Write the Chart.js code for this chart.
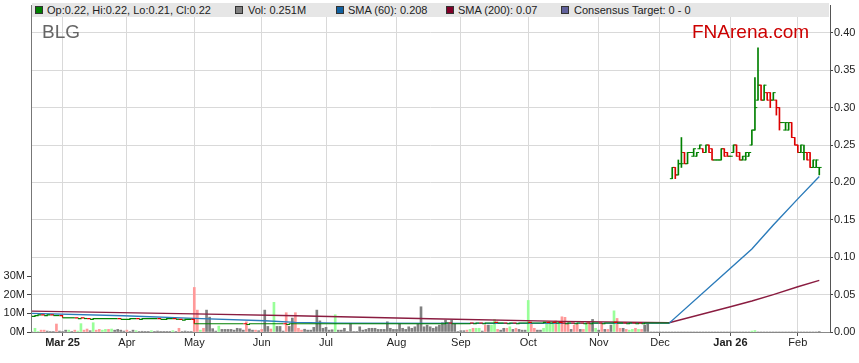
<!DOCTYPE html>
<html>
<head>
<meta charset="utf-8">
<title>BLG</title>
<script src="https://cdn.jsdelivr.net/npm/chart.js"></script>
<style>
  body { margin: 0; background: #fff; font-family: "Liberation Sans", Arial, sans-serif; }
  #wrap { position: relative; width: 859px; height: 363px; }
  #bar { position: absolute; left: 32px; top: 3px; width: 797px; height: 14px; background: #e6e6e6; }
  .sw { position: absolute; top: 3px; width: 8px; height: 8px; box-sizing: border-box; border: 1px solid #333; }
  .tx { position: absolute; top: 0; font-size: 11px; line-height: 14px; color: #222; white-space: nowrap; }
  #code { position: absolute; left: 42px; top: 22px; font-size: 19px; line-height: 19px; color: #666; }
  #brand { position: absolute; left: 692px; top: 22px; font-size: 19px; line-height: 19px; color: #c00; }
</style>
</head>
<body>
<div id="wrap">
  <canvas id="chart" width="859" height="363"></canvas>
  <div id="bar">
    <span class="sw" style="left:3px;background:#008000"></span><span class="tx" style="left:15px">Op:0.22, Hi:0.22, Lo:0.21, Cl:0.22</span>
    <span class="sw" style="left:203px;background:#808080"></span><span class="tx" style="left:216px">Vol: 0.251M</span>
    <span class="sw" style="left:304px;background:#1060a0"></span><span class="tx" style="left:316px">SMA (60): 0.208</span>
    <span class="sw" style="left:414px;background:#800028"></span><span class="tx" style="left:426px">SMA (200): 0.07</span>
    <span class="sw" style="left:529px;background:#60609a"></span><span class="tx" style="left:542px">Consensus Target: 0 - 0</span>
  </div>
  <div id="code">BLG</div>
  <div id="brand">FNArena.com</div>
</div>
<script>
// x axis = weekday index, 0 = Mon 17 Feb 2025
const monthIdx = [10, 31, 53, 75, 96, 119, 140, 162, 185, 205, 228, 250];
const monthLabels = ["Mar 25", "Apr", "May", "Jun", "Jul", "Aug", "Sep", "Oct", "Nov", "Dec", "Jan 26", "Feb"];
const yearLabels = ["Mar 25", "Jan 26"];
const priceTicks = [0, 0.05, 0.1, 0.15, 0.2, 0.25, 0.3, 0.35, 0.4];
const volTicks = [0, 10, 20, 30];

// pre-consolidation closes, days 0-208
const closeEarly = [
  0.021, 0.022, 0.023, 0.023, 0.022, 0.023, 0.023, 0.022, 0.022, 0.022,
  0.019, 0.019, 0.019, 0.019, 0.019, 0.018, 0.019, 0.018, 0.018, 0.017,
  0.018, 0.018, 0.018, 0.018, 0.018, 0.018, 0.018, 0.018, 0.018, 0.017,
  0.017, 0.017, 0.018, 0.018, 0.018, 0.017, 0.018, 0.018, 0.018, 0.018,
  0.018, 0.018, 0.017, 0.017, 0.018, 0.018, 0.018, 0.017, 0.017, 0.016,
  0.017, 0.017, 0.017, 0.011, 0.011, 0.011, 0.011, 0.011, 0.011, 0.011,
  0.011, 0.011, 0.011, 0.011, 0.011, 0.011, 0.011, 0.011, 0.011, 0.011,
  0.010, 0.011, 0.011, 0.011, 0.011, 0.011, 0.011, 0.011, 0.011, 0.011,
  0.011, 0.011, 0.011, 0.010, 0.011, 0.011, 0.011, 0.011, 0.011, 0.011,
  0.011, 0.011, 0.011, 0.011, 0.011, 0.011, 0.011, 0.011, 0.011, 0.011,
  0.011, 0.011, 0.011, 0.011, 0.011, 0.011, 0.011, 0.011, 0.011, 0.011,
  0.011, 0.011, 0.011, 0.011, 0.011, 0.011, 0.011, 0.011, 0.011, 0.011,
  0.011, 0.011, 0.011, 0.011, 0.011, 0.011, 0.011, 0.011, 0.011, 0.011,
  0.011, 0.011, 0.011, 0.011, 0.011, 0.012, 0.012, 0.011, 0.011, 0.011,
  0.011, 0.011, 0.011, 0.012, 0.011, 0.012, 0.012, 0.011, 0.012, 0.012,
  0.012, 0.013, 0.012, 0.012, 0.012, 0.011, 0.012, 0.012, 0.011, 0.012,
  0.012, 0.012, 0.013, 0.012, 0.012, 0.012, 0.012, 0.013, 0.013, 0.012,
  0.013, 0.012, 0.013, 0.012, 0.011, 0.012, 0.012, 0.011, 0.012, 0.012,
  0.011, 0.012, 0.011, 0.012, 0.012, 0.012, 0.011, 0.012, 0.012, 0.012,
  0.013, 0.012, 0.012, 0.012, 0.011, 0.012, 0.012, 0.011, 0.012, 0.011,
  0.012, 0.012, 0.012, 0.012, 0.012, 0.012, 0.012, 0.012, 0.012
];

// OHLC bars, days 209-257
const ohlcStart = 209;
const ohlcOpen = [
  0.205, 0.22, 0.21, 0.225, 0.24, 0.225, 0.24, 0.235, 0.235, 0.245,
  0.245, 0.24, 0.25, 0.245, 0.23, 0.23, 0.23, 0.245, 0.24, 0.235,
  0.24, 0.25, 0.24, 0.23, 0.23, 0.235, 0.25, 0.27, 0.31, 0.33,
  0.31, 0.32, 0.32, 0.31, 0.31, 0.30, 0.28, 0.27, 0.27, 0.28,
  0.26, 0.25, 0.24, 0.24, 0.24, 0.24, 0.22, 0.22, 0.22
];
const ohlcHigh = [
  0.22, 0.22, 0.23, 0.26, 0.24, 0.24, 0.24, 0.245, 0.24, 0.25,
  0.245, 0.25, 0.25, 0.245, 0.23, 0.23, 0.245, 0.245, 0.24, 0.235,
  0.25, 0.25, 0.24, 0.235, 0.24, 0.24, 0.27, 0.34, 0.38, 0.33,
  0.33, 0.32, 0.32, 0.32, 0.31, 0.30, 0.28, 0.28, 0.28, 0.28,
  0.26, 0.25, 0.25, 0.25, 0.24, 0.24, 0.23, 0.23, 0.22
];
const ohlcLow = [
  0.205, 0.205, 0.21, 0.22, 0.225, 0.225, 0.24, 0.235, 0.235, 0.245,
  0.24, 0.24, 0.24, 0.23, 0.23, 0.23, 0.23, 0.235, 0.235, 0.235,
  0.24, 0.235, 0.23, 0.23, 0.23, 0.235, 0.25, 0.27, 0.31, 0.31,
  0.31, 0.31, 0.30, 0.31, 0.29, 0.27, 0.28, 0.27, 0.27, 0.26,
  0.25, 0.24, 0.24, 0.23, 0.23, 0.22, 0.22, 0.22, 0.21
];
const ohlcClose = [
  0.22, 0.21, 0.225, 0.225, 0.225, 0.24, 0.24, 0.245, 0.24, 0.25,
  0.24, 0.25, 0.24, 0.23, 0.23, 0.23, 0.245, 0.235, 0.235, 0.235,
  0.25, 0.235, 0.23, 0.235, 0.24, 0.24, 0.27, 0.30, 0.33, 0.31,
  0.33, 0.31, 0.31, 0.32, 0.30, 0.28, 0.28, 0.28, 0.28, 0.26,
  0.25, 0.24, 0.25, 0.24, 0.23, 0.22, 0.23, 0.23, 0.22
];

// volume in millions, days 0-257
const volume = [
  0, 2.0, 0.3, 1.0, 1.0, 0.5, 0.3, 0.3, 4.3, 0.5,
  0.3, 1.0, 1.0, 0.3, 1.0, 0.5, 4.5, 1.0, 1.6, 0.7,
  5.0, 1.0, 1.4, 1.0, 1.4, 1.4, 1.6, 1.0, 1.4, 1.0,
  0.5, 1.0, 0.3, 1.0, 0.7, 0.3, 0.4, 0.2, 0.2, 0.7,
  0.2, 0.5, 0.2, 0.2, 0.2, 0.2, 0.7, 0.3, 2.0, 0.3,
  0.5, 0.3, 0.3, 24, 11.8, 1.0, 2.0, 11.8, 8.0, 1.8,
  0.5, 3.2, 1.4, 1.4, 1.4, 1.4, 1.0, 2.0, 1.8, 1.0,
  5.5, 1.6, 1.0, 1.0, 0.7, 1.4, 11.8, 3.0, 1.6, 16,
  3.0, 3.0, 0.5, 10.4, 3.0, 7.5, 10.4, 2.0, 1.0, 1.5,
  1.0, 1.0, 2.5, 11.8, 6.0, 2.0, 2.5, 1.0, 1.2, 9.3,
  1.0, 1.0, 2.0, 0.3, 4.6, 0.3, 0.3, 2.8, 1.0, 1.4,
  2.0, 2.0, 2.0, 1.4, 1.4, 1.4, 5.5, 2.0, 1.4, 1.4,
  4.6, 2.0, 1.4, 2.8, 2.0, 2.8, 4.6, 13.6, 2.8, 3.7,
  2.8, 2.0, 2.8, 3.7, 5.0, 6.4, 5.0, 6.4, 4.6, 0.3,
  0.7, 0.7, 1.0, 1.4, 2.0, 2.0, 2.0, 0.5, 3.7, 3.7,
  3.7, 6.8, 1.4, 1.0, 2.0, 2.0, 2.8, 1.4, 2.0, 1.4,
  1.0, 1.0, 17, 4.6, 2.0, 1.0, 1.0, 2.0, 4.6, 5.5,
  5.5, 6.0, 5.5, 8.2, 7.9, 5.5, 1.4, 3.7, 4.6, 1.4,
  1.4, 5.0, 5.5, 6.8, 2.0, 1.0, 4.6, 1.4, 1.4, 3.7,
  11.4, 7.3, 2.0, 2.0, 1.4, 1.0, 1.4, 2.0, 1.4, 1.4,
  3.7, 4.6, 0, 0, 0, 0, 0, 0, 0, 0,
  0, 0, 0, 0, 0, 0, 0, 0, 0, 0,
  0, 0, 0, 0, 0, 0, 0, 0, 0, 0,
  0, 0, 0, 0, 0, 0.5, 0.8, 0, 0, 0,
  0, 0, 0, 0, 0, 0, 0, 0, 0, 0,
  0, 0, 0, 0, 0, 0, 0, 0.251
];
// 1 = up day, -1 = down day, 0 = unchanged
const volDir = [
  0, 1, 1, -1, -1, 0, 0, 0, -1, 0,
  0, 0, 1, 0, -1, 1, 1, -1, -1, 0,
  1, -1, -1, 1, 1, -1, 1, 0, 0, 0,
  0, -1, 0, 0, 1, 0, 0, 0, 0, 1,
  0, 0, 0, 0, 0, 0, 1, 0, -1, 0,
  0, 0, 0, -1, -1, 1, -1, 0, 0, 0,
  0, 1, 0, 0, 0, 0, 0, 0, 0, 0,
  -1, 0, 0, -1, 0, -1, 0, 0, -1, 1,
  0, 0, 0, -1, 0, 0, -1, -1, -1, 0,
  0, 0, 0, 0, 0, 0, 0, 0, 0, 1,
  0, 0, 0, 0, 0, 0, 0, 0, 0, 0,
  0, 0, 0, 0, 0, 0, 0, 0, 0, 0,
  0, 0, 0, 0, 0, 0, 0, 0, 0, 0,
  0, 0, 0, 0, 0, 0, 0, 0, 0, 0,
  0, 0, -1, 1, -1, 1, 1, 0, -1, 0,
  1, 1, -1, 0, 0, -1, 1, 0, -1, 0,
  0, 0, 1, -1, -1, 0, 0, 1, 1, 1,
  1, -1, 1, -1, -1, -1, 0, -1, -1, 0,
  -1, 1, -1, 0, 1, 0, -1, 0, -1, 0,
  1, -1, -1, 0, -1, 1, 1, -1, 1, -1,
  0, 0, 0, 0, 0, 0, 0, 0, 0, 0,
  0, 0, 0, 0, 0, 0, 0, 0, 0, 0,
  0, 0, 0, 0, 0, 0, 0, 0, 0, 0,
  0, 0, 0, 0, 0, 1, 1, 0, 0, 0,
  0, 0, 0, 0, 0, 0, 0, 0, 0, 0,
  0, 0, 0, 0, 0, 0, 0, 0
];

// moving averages
const sma60Day = [0, 30, 53, 76, 86, 100, 150, 208, 228, 235, 242, 250, 257];
const sma60 = [0.0249, 0.0217, 0.0182, 0.015, 0.0129, 0.0118, 0.0115, 0.0118, 0.0852, 0.111, 0.143, 0.178, 0.208];
const sma200Day = [0, 53, 86, 130, 173, 208, 228, 235, 242, 250, 257];
const sma200 = [0.0279, 0.0243, 0.0218, 0.0177, 0.0142, 0.0124, 0.0338, 0.0415, 0.05, 0.0605, 0.069];

const GREEN = "#008000";
const RED = "#dd0000";
const volColor = { 1: "#99ff99", "-1": "#ff9999", 0: "#808080" };

Chart.defaults.font.family = '"Liberation Sans", Arial, sans-serif';
Chart.defaults.font.size = 11;

const barColor = ohlcOpen.map((o, k) => (ohlcClose[k] >= o ? GREEN : RED));

new Chart(document.getElementById("chart"), {
  type: "bar",
  data: {
    datasets: [
      {
        type: "line",
        data: closeEarly.map((v, i) => ({ x: i, y: v })),
        yAxisID: "y",
        stepped: true,
        borderWidth: 1.2,
        pointRadius: 0,
        borderColor: GREEN,
        segment: {
          borderColor: (c) => (c.p1.parsed.y < c.p0.parsed.y ? RED : GREEN),
        },
        order: 0,
      },
      {
        type: "bar",
        data: ohlcLow.map((l, k) => ({ x: ohlcStart + k, y: [l, ohlcHigh[k]] })),
        yAxisID: "y",
        backgroundColor: barColor,
        barThickness: 1,
        grouped: false,
        order: 0,
      },
      {
        type: "line",
        data: ohlcOpen.map((o, k) => ({ x: ohlcStart + k - 0.35, y: o })),
        yAxisID: "y",
        showLine: false,
        pointStyle: "line",
        pointRadius: 1.3,
        pointBorderWidth: 1,
        pointBorderColor: barColor,
        order: 0,
      },
      {
        type: "line",
        data: ohlcClose.map((c, k) => ({ x: ohlcStart + k + 0.35, y: c })),
        yAxisID: "y",
        showLine: false,
        pointStyle: "line",
        pointRadius: 1.3,
        pointBorderWidth: 1,
        pointBorderColor: barColor,
        order: 0,
      },
      {
        type: "line",
        data: sma60Day.map((d, k) => ({ x: d, y: sma60[k] })),
        yAxisID: "y",
        borderColor: "#2b7bba",
        borderWidth: 1.4,
        pointRadius: 0,
        tension: 0,
        order: 1,
      },
      {
        type: "line",
        data: sma200Day.map((d, k) => ({ x: d, y: sma200[k] })),
        yAxisID: "y",
        borderColor: "#8a1c40",
        borderWidth: 1.4,
        pointRadius: 0,
        tension: 0,
        order: 1,
      },
      {
        type: "bar",
        data: volume.map((v, i) => ({ x: i, y: v })),
        yAxisID: "yv",
        backgroundColor: volDir.map((d) => volColor[d]),
        barThickness: 2,
        grouped: false,
        order: 2,
      },
    ],
  },
  options: {
    responsive: false,
    animation: false,
    events: [],
    layout: { padding: { top: 3, left: 0, right: 0, bottom: 0 } },
    plugins: { legend: { display: false }, tooltip: { enabled: false } },
    scales: {
      x: {
        type: "linear",
        min: -0.3,
        max: 260.5,
        offset: false,
        afterBuildTicks: (s) => {
          s.ticks = monthIdx.map((v) => ({ value: v }));
        },
        afterFit: (s) => {
          s.height = 31;
          s.paddingLeft = 0;
          s.paddingRight = 0;
        },
        grid: { offset: false, color: "#d9d9d9", tickColor: "#555", tickLength: 4 },
        border: { color: "#888" },
        ticks: {
          autoSkip: false,
          maxRotation: 0,
          padding: 0,
          color: "#222",
          callback: (v) => monthLabels[monthIdx.indexOf(v)],
          font: (c) => ({
            size: 11,
            weight: c.tick && yearLabels.includes(monthLabels[monthIdx.indexOf(c.tick.value)]) ? "bold" : "normal",
          }),
        },
      },
      y: {
        position: "right",
        min: 0,
        max: 0.4372,
        afterBuildTicks: (s) => {
          s.ticks = priceTicks.map((v) => ({ value: v }));
        },
        afterFit: (s) => {
          s.width = 29;
          s.paddingTop = 0;
          s.paddingBottom = 0;
        },
        grid: { color: "#d9d9d9", tickColor: "#444", tickLength: 3 },
        border: { color: "#555" },
        ticks: { padding: 1, color: "#222", callback: (v) => v.toFixed(2) },
      },
      yv: {
        position: "left",
        min: 0,
        max: 176.2,
        afterBuildTicks: (s) => {
          s.ticks = volTicks.map((v) => ({ value: v }));
        },
        afterFit: (s) => {
          s.width = 31;
          s.paddingTop = 0;
          s.paddingBottom = 0;
        },
        grid: { drawOnChartArea: false, tickColor: "#444", tickLength: 4 },
        border: { color: "#777" },
        ticks: { padding: 2, color: "#222", callback: (v) => v + "M" },
      },
    },
  },
});
</script>
</body>
</html>
